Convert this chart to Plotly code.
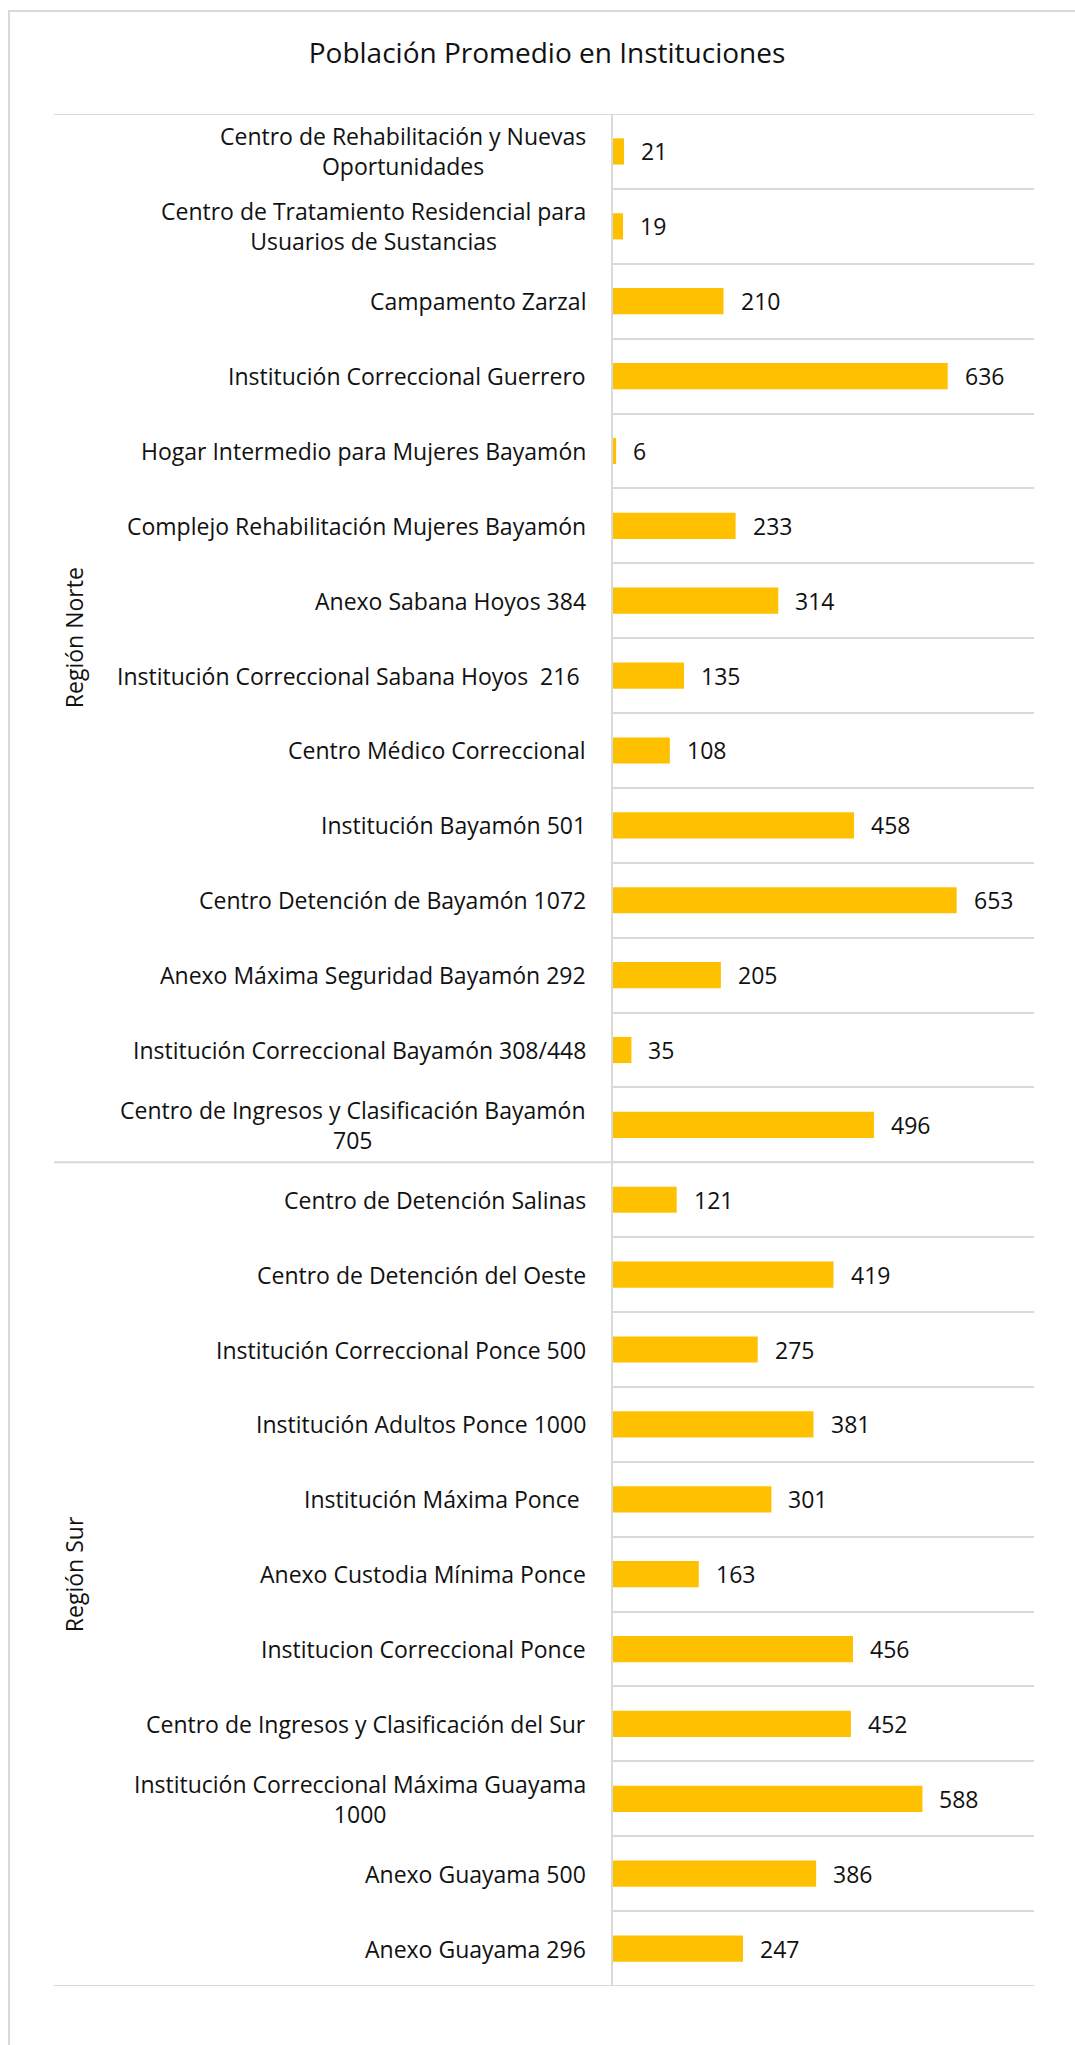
import plotly.graph_objects as go

# ---------------- data ----------------
regions = ["Región Norte"] * 14 + ["Región Sur"] * 11

categories = [
    "Centro de Rehabilitación y Nuevas Oportunidades",
    "Centro de Tratamiento Residencial para Usuarios de Sustancias",
    "Campamento Zarzal",
    "Institución Correccional Guerrero",
    "Hogar Intermedio para Mujeres Bayamón",
    "Complejo Rehabilitación Mujeres Bayamón",
    "Anexo Sabana Hoyos 384",
    "Institución Correccional Sabana Hoyos  216 ",
    "Centro Médico Correccional",
    "Institución Bayamón 501",
    "Centro Detención de Bayamón 1072",
    "Anexo Máxima Seguridad Bayamón 292",
    "Institución Correccional Bayamón 308/448",
    "Centro de Ingresos y Clasificación Bayamón 705",
    "Centro de Detención Salinas",
    "Centro de Detención del Oeste",
    "Institución Correccional Ponce 500",
    "Institución Adultos Ponce 1000",
    "Institución Máxima Ponce ",
    "Anexo Custodia Mínima Ponce",
    "Institucion Correccional Ponce",
    "Centro de Ingresos y Clasificación del Sur",
    "Institución Correccional Máxima Guayama 1000",
    "Anexo Guayama 500",
    "Anexo Guayama 296",
]

# label text as displayed (with line breaks)
display_labels = [
    "Centro de Rehabilitación y Nuevas<br>Oportunidades",
    "Centro de Tratamiento Residencial para<br>Usuarios de Sustancias",
    "Campamento Zarzal",
    "Institución Correccional Guerrero",
    "Hogar Intermedio para Mujeres Bayamón",
    "Complejo Rehabilitación Mujeres Bayamón",
    "Anexo Sabana Hoyos 384",
    "Institución Correccional Sabana Hoyos  216 ",
    "Centro Médico Correccional",
    "Institución Bayamón 501",
    "Centro Detención de Bayamón 1072",
    "Anexo Máxima Seguridad Bayamón 292",
    "Institución Correccional Bayamón 308/448",
    "Centro de Ingresos y Clasificación Bayamón<br>705",
    "Centro de Detención Salinas",
    "Centro de Detención del Oeste",
    "Institución Correccional Ponce 500",
    "Institución Adultos Ponce 1000",
    "Institución Máxima Ponce ",
    "Anexo Custodia Mínima Ponce",
    "Institucion Correccional Ponce",
    "Centro de Ingresos y Clasificación del Sur",
    "Institución Correccional Máxima Guayama<br>1000",
    "Anexo Guayama 500",
    "Anexo Guayama 296",
]

values = [21, 19, 210, 636, 6, 233, 314, 135, 108, 458, 653, 205, 35, 496,
          121, 419, 275, 381, 301, 163, 456, 452, 588, 386, 247]

title_text = "Población Promedio en Instituciones"
x_range = [0, 800]

# ---------------- layout constants ----------------
W, H = 1075, 2045
L, R, T, B = 613, W - 1034, 114, H - 1986
plot_w = W - L - R
plot_h = H - T - B
FONT = "Open Sans"
TXT = "#111111"
GRID = "#d9d9d9"
BAR = "#FFC000"

def px_to_paper_x(px):
    return (px - L) / plot_w

def px_to_paper_y(py):
    return (H - B - py) / plot_h

fig = go.Figure()
fig.add_trace(go.Bar(
    x=values,
    y=categories,
    orientation="h",
    marker=dict(color=BAR, line=dict(width=0)),
    width=0.35,
    hoverinfo="x+y",
))

annotations = []
# category labels (centred multi-line, right anchored)
for cat, lab in zip(categories, display_labels):
    annotations.append(dict(
        x=0, xref="paper", y=cat, yref="y",
        text=lab, showarrow=False, xanchor="right", yanchor="middle",
        align="center", xshift=-25,
        font=dict(family=FONT, size=23, color=TXT),
    ))
# value labels
for cat, v in zip(categories, values):
    annotations.append(dict(
        x=v, xref="x", y=cat, yref="y",
        text=str(v), showarrow=False, xanchor="left", yanchor="middle",
        xshift=15,
        font=dict(family=FONT, size=23, color=TXT),
    ))
# region labels
unique_regions = []
for r in regions:
    if r not in unique_regions:
        unique_regions.append(r)
for reg in unique_regions:
    idx = [i for i, r in enumerate(regions) if r == reg]
    center = (idx[0] + idx[-1]) / 2
    annotations.append(dict(
        x=px_to_paper_x(74), xref="paper", y=center, yref="y",
        text=reg, showarrow=False, textangle=-90,
        xanchor="center", yanchor="middle",
        font=dict(family=FONT, size=23, color=TXT),
    ))

shapes = []
# group divider lines (top, between regions, bottom)
bounds = [-0.5]
for i in range(1, len(regions)):
    if regions[i] != regions[i - 1]:
        bounds.append(i - 0.5)
bounds.append(len(regions) - 0.5)
for b in bounds:
    shapes.append(dict(
        type="line", xref="paper", yref="y",
        x0=px_to_paper_x(54), x1=1, y0=b, y1=b,
        line=dict(color=GRID, width=2), layer="above",
    ))
# chart area border
shapes.append(dict(
    type="rect", xref="paper", yref="paper",
    x0=px_to_paper_x(9), x1=px_to_paper_x(W + 20),
    y0=px_to_paper_y(H + 20), y1=px_to_paper_y(11),
    line=dict(color=GRID, width=2), fillcolor="rgba(0,0,0,0)", layer="below",
))

fig.update_layout(
    width=W, height=H,
    margin=dict(l=L, r=R, t=T, b=B, pad=0),
    paper_bgcolor="white", plot_bgcolor="white",
    showlegend=False,
    title=dict(
        text=title_text, x=547 / W, xref="container", xanchor="center",
        y=1 - 53 / H, yref="container", yanchor="middle",
        font=dict(family=FONT, size=28, color=TXT),
    ),
    xaxis=dict(range=x_range, visible=False, showgrid=False, zeroline=False,
               fixedrange=True),
    yaxis=dict(
        type="category", categoryorder="array", categoryarray=categories,
        range=[len(categories) - 0.5, -0.5],
        showticklabels=False, ticks="", tickson="boundaries",
        showgrid=True, gridcolor=GRID, gridwidth=2,
        showline=True, linecolor=GRID, linewidth=2,
        zeroline=False, fixedrange=True,
    ),
    annotations=annotations,
    shapes=shapes,
)

fig.write_html("out.html", config={"displayModeBar": False},
               post_script="document.body.style.margin='0';")
